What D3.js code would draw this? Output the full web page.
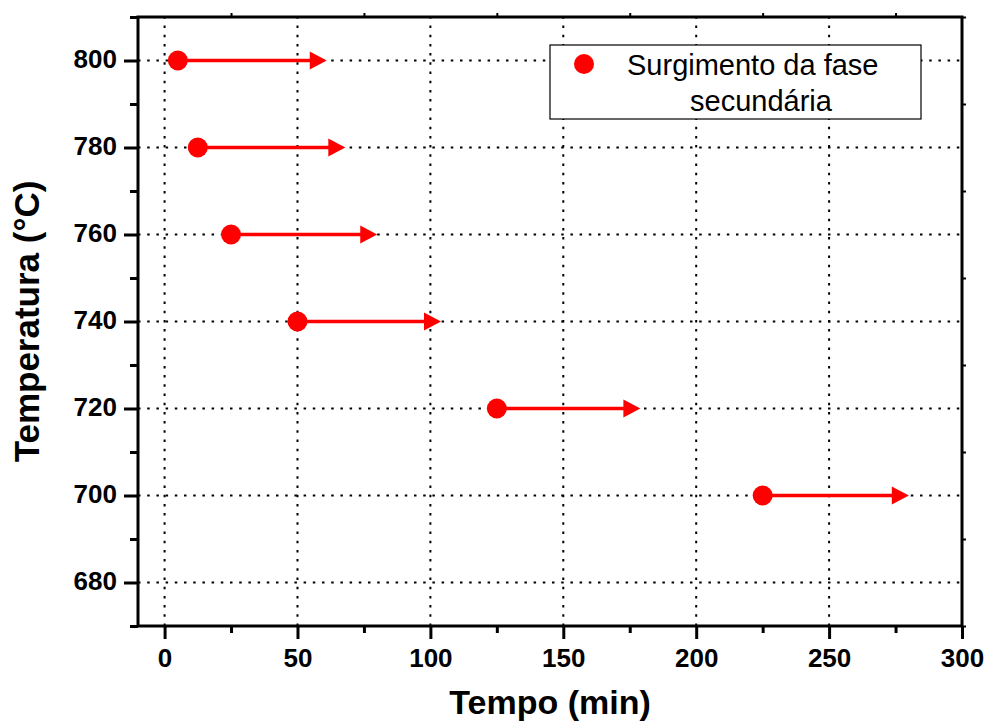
<!DOCTYPE html>
<html>
<head>
<meta charset="utf-8">
<script src="https://cdn.jsdelivr.net/npm/d3@7"></script>
<style>
  html, body { margin: 0; padding: 0; background: #fff; }
  svg { display: block; }
  text { font-family: "Liberation Sans", Arial, sans-serif; }
</style>
</head>
<body>
<svg id="chart" width="987" height="727"></svg>
<script>
// Temperature of each isothermal treatment (°C)
const temperatures = [800, 780, 760, 740, 720, 700];
// Time at which the secondary phase was first observed (min)
const onsetTimes = [5, 12.5, 25, 50, 125, 225];
// Time where each "and beyond" arrow ends (min)
const arrowEnds = [61, 68, 80, 104, 179, 280];

const xTicks = [0, 50, 100, 150, 200, 250, 300];
const xMinorTicks = [25, 75, 125, 175, 225, 275];
const yTicks = [680, 700, 720, 740, 760, 780, 800];
const yMinorTicks = [670, 690, 710, 730, 750, 770, 790, 810];

const legendLines = ["Surgimento da fase", "secundária"];
const xTitle = "Tempo (min)";
const yTitle = "Temperatura (°C)";

const plot = { left: 138, right: 962, top: 17, bottom: 626 };
const red = "#ff0000";

const svg = d3.select("#chart");

const x = d3.scaleLinear().domain([-10, 300]).range([plot.left, plot.right]);
const y = d3.scaleLinear().domain([670, 810]).range([plot.bottom, plot.top]);

// dotted grid
const grid = svg.append("g")
  .attr("stroke", "#000")
  .attr("stroke-width", 2)
  .attr("stroke-dasharray", "2.5,6.7");
grid.selectAll("line.v").data(xTicks.filter(d => d < 300)).join("line")
  .attr("class", "v")
  .attr("x1", d => x(d)).attr("x2", d => x(d))
  .attr("y1", plot.bottom).attr("y2", plot.top);
grid.selectAll("line.h").data(yTicks).join("line")
  .attr("class", "h")
  .attr("x1", plot.left).attr("x2", plot.right)
  .attr("y1", d => y(d)).attr("y2", d => y(d));

// axes
const styleAxis = (g, size) => {
  g.select(".domain").remove();
  g.selectAll(".tick line").attr("stroke", "#000").attr("stroke-width", 3);
  g.selectAll(".tick text")
    .attr("fill", "#000")
    .attr("font-size", size)
    .attr("font-weight", "bold");
};

svg.append("g")
  .attr("transform", `translate(0,${plot.bottom})`)
  .call(d3.axisBottom(x).tickValues(xTicks).tickSize(13).tickPadding(9).tickFormat(d3.format("d")))
  .call(g => styleAxis(g, 26))
  .call(g => g.selectAll(".tick text").attr("dy", "0.72em"));

svg.append("g")
  .attr("transform", `translate(0,${plot.bottom})`)
  .call(d3.axisBottom(x).tickValues(xMinorTicks).tickSize(7).tickFormat(""))
  .call(g => styleAxis(g, 26));

svg.append("g")
  .attr("transform", `translate(${plot.left},0)`)
  .call(d3.axisLeft(y).tickValues(yTicks).tickSize(14).tickPadding(7).tickFormat(d3.format("d")))
  .call(g => styleAxis(g, 26))
  .call(g => g.selectAll(".tick text").attr("dy", "0.27em"));

svg.append("g")
  .attr("transform", `translate(${plot.left},0)`)
  .call(d3.axisLeft(y).tickValues(yMinorTicks).tickSize(8).tickFormat(""))
  .call(g => styleAxis(g, 26));

// small outer ticks on the right and top edges
svg.append("g")
  .attr("transform", `translate(${plot.right},0)`)
  .call(d3.axisRight(y).tickValues(yMinorTicks).tickSize(4).tickFormat(""))
  .call(g => { g.select(".domain").remove(); g.selectAll(".tick line").attr("stroke", "#000").attr("stroke-width", 2); });
svg.append("g")
  .attr("transform", `translate(0,${plot.top})`)
  .call(d3.axisTop(x).tickValues(xMinorTicks).tickSize(4).tickFormat(""))
  .call(g => { g.select(".domain").remove(); g.selectAll(".tick line").attr("stroke", "#000").attr("stroke-width", 2); });

// frame
svg.append("rect")
  .attr("x", plot.left).attr("y", plot.top)
  .attr("width", plot.right - plot.left).attr("height", plot.bottom - plot.top)
  .attr("fill", "none").attr("stroke", "#000").attr("stroke-width", 3);

// axis titles
svg.append("text")
  .attr("x", (plot.left + plot.right) / 2).attr("y", 714)
  .attr("text-anchor", "middle")
  .attr("font-size", 34).attr("font-weight", "bold")
  .text(xTitle);

svg.append("text")
  .attr("transform", `translate(39,${(plot.top + plot.bottom) / 2}) rotate(-90)`)
  .attr("text-anchor", "middle")
  .attr("font-size", 35).attr("font-weight", "bold")
  .text(yTitle);

// arrows and onset markers
const rows = temperatures.map((t, i) => ({ t, start: onsetTimes[i], end: arrowEnds[i] }));
const headLen = 17, headHalf = 9;

const marks = svg.append("g");
marks.selectAll("line.shaft").data(rows).join("line")
  .attr("class", "shaft")
  .attr("x1", d => x(d.start)).attr("x2", d => x(d.end) - headLen + 2)
  .attr("y1", d => y(d.t)).attr("y2", d => y(d.t))
  .attr("stroke", red).attr("stroke-width", 3.5);
marks.selectAll("path.head").data(rows).join("path")
  .attr("class", "head")
  .attr("d", d => {
    const tx = x(d.end), ty = y(d.t);
    return `M${tx},${ty}L${tx - headLen},${ty - headHalf}L${tx - headLen},${ty + headHalf}Z`;
  })
  .attr("fill", red);
marks.selectAll("circle").data(rows).join("circle")
  .attr("cx", d => x(d.start)).attr("cy", d => y(d.t))
  .attr("r", 10)
  .attr("fill", red);

// legend
const legend = svg.append("g");
legend.append("rect")
  .attr("x", 550).attr("y", 45).attr("width", 371).attr("height", 74)
  .attr("fill", "#fff").attr("stroke", "#000").attr("stroke-width", 1.2);
legend.append("circle").attr("cx", 584).attr("cy", 64).attr("r", 10).attr("fill", red);
legend.append("text").attr("x", 627).attr("y", 75)
  .attr("font-size", 29).text(legendLines[0]);
legend.append("text").attr("x", 690).attr("y", 111)
  .attr("font-size", 29).text(legendLines[1]);
</script>
</body>
</html>
